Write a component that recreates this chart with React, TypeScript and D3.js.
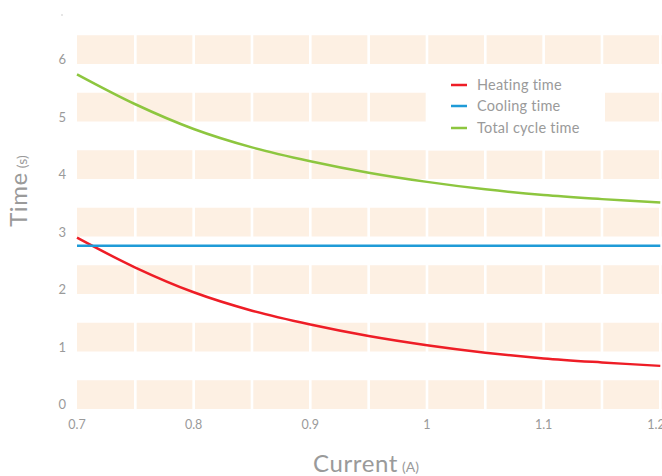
import React from "react";
import * as d3 from "d3";

const currents = [0.7, 0.75, 0.8, 0.85, 0.9, 0.95, 1.0, 1.05, 1.1, 1.15, 1.2];
const heatingTime = [2.98, 2.46, 2.03, 1.71, 1.47, 1.27, 1.11, 0.98, 0.88, 0.81, 0.75];
const coolingTime = [2.84, 2.84, 2.84, 2.84, 2.84, 2.84, 2.84, 2.84, 2.84, 2.84, 2.84];
const totalCycleTime = [5.82, 5.3, 4.87, 4.55, 4.31, 4.11, 3.95, 3.82, 3.72, 3.65, 3.59];
const yTicks = [0, 1, 2, 3, 4, 5, 6];
const xTicks = [0.7, 0.8, 0.9, 1.0, 1.1, 1.2];
const xTickLabels = ["0.7", "0.8", "0.9", "1", "1.1", "1.2"];
const gridCurrents = [0.75, 0.8, 0.85, 0.9, 0.95, 1.0, 1.05, 1.1, 1.15, 1.2];
const seriesNames = ["Heating time", "Cooling time", "Total cycle time"];
const seriesColors = ["#ee1d26", "#1f9bd7", "#8dc63f"];

const W = 662;
const H = 476;
const FONT = "Lato, 'Open Sans', sans-serif";
const GRAY = "#9a9a9a";

export default function App() {
  const x = d3.scaleLinear().domain([0.7, 1.2]).range([77, 660.3]);
  const y = d3.scaleLinear().domain([0, 6]).range([409, 64]);
  const series = [heatingTime, coolingTime, totalCycleTime];
  const line = d3
    .line<number>()
    .x((_, i) => x(currents[i]))
    .y((d) => y(d))
    .curve(d3.curveCatmullRom.alpha(0.5));

  return (
    <>
      <style>{`body{margin:0}`}</style>
      <svg width={W} height={H} style={{ display: "block" }} fontFamily={FONT}>
        {/* bands */}
        {yTicks.map((k) => (
          <rect
            key={"b" + k}
            x={x(0.7)}
            y={y(k + 0.5)}
            width={W - x(0.7)}
            height={y(k) - y(k + 0.5)}
            fill="#fdf0e3"
          />
        ))}
        {gridCurrents.map((c) => (
          <line
            key={"g" + c}
            x1={x(c)}
            x2={x(c)}
            y1={y(6.6)}
            y2={y(-0.1)}
            stroke="#ffffff"
            strokeWidth={2.6}
          />
        ))}
        {/* legend background */}
        <rect x={428} y={y(6) + 0.5} width={177} height={86} fill="#ffffff" />

        {/* y tick labels */}
        {yTicks.map((k) => (
          <text key={"yt" + k} x={66} y={y(k)} textAnchor="end" fontSize={13} fill={GRAY}>
            {k}
          </text>
        ))}
        <circle cx={62} cy={15} r={0.7} fill="#bbbbbb" />

        {/* x tick labels */}
        {xTicks.map((c, i) => (
          <text key={"xt" + c} x={Math.min(x(c), 656)} y={429} textAnchor="middle" fontSize={12.5} fill={GRAY}>
            {xTickLabels[i]}
          </text>
        ))}

        {/* lines */}
        {series.map((s, i) => (
          <path key={"s" + i} d={line(s) || ""} fill="none" stroke={seriesColors[i]} strokeWidth={2.5} />
        ))}

        {/* legend */}
        {seriesNames.map((n, i) => {
          const ly = [85, 106, 128][i];
          return (
            <g key={"l" + i}>
              <line x1={451} x2={467} y1={ly} y2={ly} stroke={seriesColors[i]} strokeWidth={2.5} />
              <text x={477} y={ly + 5} fontSize={14.5} letterSpacing={0.25} fill={GRAY}>
                {n}
              </text>
            </g>
          );
        })}

        {/* axis titles */}
        <text x={366} y={472} textAnchor="middle" fill={GRAY}>
          <tspan fontSize={24} letterSpacing={0.6}>Current</tspan>
          <tspan fontSize={14} dx={4}>(A)</tspan>
        </text>
        <text transform="translate(27,191) rotate(-90)" textAnchor="middle" fill={GRAY}>
          <tspan fontSize={24} letterSpacing={0.6}>Time</tspan>
          <tspan fontSize={14} dx={4}>(s)</tspan>
        </text>
      </svg>
    </>
  );
}
